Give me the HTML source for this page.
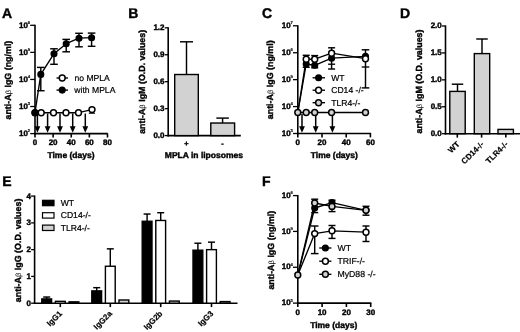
<!DOCTYPE html>
<html><head><meta charset="utf-8"><title>Figure</title>
<style>
html,body{margin:0;padding:0;background:#fff;}
svg{display:block;text-rendering:geometricPrecision;font-family:'Liberation Sans', Arial, sans-serif;}
</style></head>
<body>
<svg width="520" height="332" viewBox="0 0 520 332" style="font-family:'Liberation Sans', Arial, sans-serif">
<defs><filter id="soft" x="0" y="0" width="520" height="332" filterUnits="userSpaceOnUse"><feGaussianBlur stdDeviation="0.4"/></filter></defs>
<rect x="0" y="0" width="520" height="332" fill="#fff"/>
<g filter="url(#soft)">
<text x="2.00" y="18.00" font-size="14" font-weight="bold" text-anchor="start" stroke="#000" stroke-width="0.4">A</text>
<line x1="35.00" y1="24.70" x2="35.00" y2="134.40" stroke="#000" stroke-width="1.6" stroke-linecap="butt"/>
<line x1="34.20" y1="133.60" x2="107.80" y2="133.60" stroke="#000" stroke-width="1.6" stroke-linecap="butt"/>
<line x1="30.20" y1="25.30" x2="35.00" y2="25.30" stroke="#000" stroke-width="1.3" stroke-linecap="butt"/>
<text x="27.90" y="27.50" font-size="8.0" font-weight="bold" text-anchor="end" stroke="#000" stroke-width="0.4">10</text>
<text x="27.70" y="23.80" font-size="4.2" font-weight="bold" text-anchor="start" stroke="#000" stroke-width="0.15">6</text>
<line x1="30.20" y1="52.38" x2="35.00" y2="52.38" stroke="#000" stroke-width="1.3" stroke-linecap="butt"/>
<text x="27.90" y="54.58" font-size="8.0" font-weight="bold" text-anchor="end" stroke="#000" stroke-width="0.4">10</text>
<text x="27.70" y="50.88" font-size="4.2" font-weight="bold" text-anchor="start" stroke="#000" stroke-width="0.15">5</text>
<line x1="30.20" y1="79.45" x2="35.00" y2="79.45" stroke="#000" stroke-width="1.3" stroke-linecap="butt"/>
<text x="27.90" y="81.65" font-size="8.0" font-weight="bold" text-anchor="end" stroke="#000" stroke-width="0.4">10</text>
<text x="27.70" y="77.95" font-size="4.2" font-weight="bold" text-anchor="start" stroke="#000" stroke-width="0.15">4</text>
<line x1="30.20" y1="106.52" x2="35.00" y2="106.52" stroke="#000" stroke-width="1.3" stroke-linecap="butt"/>
<text x="27.90" y="108.72" font-size="8.0" font-weight="bold" text-anchor="end" stroke="#000" stroke-width="0.4">10</text>
<text x="27.70" y="105.02" font-size="4.2" font-weight="bold" text-anchor="start" stroke="#000" stroke-width="0.15">3</text>
<line x1="30.20" y1="133.60" x2="35.00" y2="133.60" stroke="#000" stroke-width="1.3" stroke-linecap="butt"/>
<text x="27.90" y="135.80" font-size="8.0" font-weight="bold" text-anchor="end" stroke="#000" stroke-width="0.4">10</text>
<text x="27.70" y="132.10" font-size="4.2" font-weight="bold" text-anchor="start" stroke="#000" stroke-width="0.15">2</text>
<line x1="35.00" y1="133.60" x2="35.00" y2="137.50" stroke="#000" stroke-width="1.6" stroke-linecap="butt"/>
<text x="35.00" y="145.30" font-size="8.0" font-weight="bold" text-anchor="middle" stroke="#000" stroke-width="0.4">0</text>
<line x1="53.12" y1="133.60" x2="53.12" y2="137.50" stroke="#000" stroke-width="1.6" stroke-linecap="butt"/>
<text x="53.12" y="145.30" font-size="8.0" font-weight="bold" text-anchor="middle" stroke="#000" stroke-width="0.4">20</text>
<line x1="71.24" y1="133.60" x2="71.24" y2="137.50" stroke="#000" stroke-width="1.6" stroke-linecap="butt"/>
<text x="71.24" y="145.30" font-size="8.0" font-weight="bold" text-anchor="middle" stroke="#000" stroke-width="0.4">40</text>
<line x1="89.36" y1="133.60" x2="89.36" y2="137.50" stroke="#000" stroke-width="1.6" stroke-linecap="butt"/>
<text x="89.36" y="145.30" font-size="8.0" font-weight="bold" text-anchor="middle" stroke="#000" stroke-width="0.4">60</text>
<line x1="107.48" y1="133.60" x2="107.48" y2="137.50" stroke="#000" stroke-width="1.6" stroke-linecap="butt"/>
<text x="107.48" y="145.30" font-size="8.0" font-weight="bold" text-anchor="middle" stroke="#000" stroke-width="0.4">80</text>
<text x="71.00" y="158.40" font-size="8.5" font-weight="bold" text-anchor="middle" stroke="#000" stroke-width="0.4">Time (days)</text>
<text x="10.60" y="80.10" font-size="8.9" font-weight="bold" stroke="#000" stroke-width="0.4" text-anchor="middle" transform="rotate(-90 10.60 80.10)">anti-A<tspan font-weight="normal" stroke-width="0" font-size="7.6">β</tspan> IgG (ng/ml)</text>
<line x1="37.40" y1="113.50" x2="37.40" y2="127.20" stroke="#000" stroke-width="1.5" stroke-linecap="butt"/>
<polygon points="34.50,126.20 40.30,126.20 37.40,132.80" fill="#000"/>
<line x1="47.60" y1="113.50" x2="47.60" y2="127.20" stroke="#000" stroke-width="1.5" stroke-linecap="butt"/>
<polygon points="44.70,126.20 50.50,126.20 47.60,132.80" fill="#000"/>
<line x1="60.00" y1="113.50" x2="60.00" y2="127.20" stroke="#000" stroke-width="1.5" stroke-linecap="butt"/>
<polygon points="57.10,126.20 62.90,126.20 60.00,132.80" fill="#000"/>
<line x1="72.70" y1="113.50" x2="72.70" y2="127.20" stroke="#000" stroke-width="1.5" stroke-linecap="butt"/>
<polygon points="69.80,126.20 75.60,126.20 72.70,132.80" fill="#000"/>
<line x1="85.30" y1="113.50" x2="85.30" y2="127.20" stroke="#000" stroke-width="1.5" stroke-linecap="butt"/>
<polygon points="82.40,126.20 88.20,126.20 85.30,132.80" fill="#000"/>
<polyline points="35.00,112.70 41.20,112.70 53.50,112.70 66.00,112.70 78.50,112.70 92.00,109.60" fill="none" stroke="#000" stroke-width="1.35" stroke-linejoin="round"/>
<line x1="88.80" y1="113.20" x2="95.00" y2="113.20" stroke="#000" stroke-width="1.1" stroke-linecap="butt"/>
<circle cx="35.00" cy="112.70" r="2.95" fill="#fff" stroke="#000" stroke-width="1.5"/>
<circle cx="41.20" cy="112.70" r="2.95" fill="#fff" stroke="#000" stroke-width="1.5"/>
<circle cx="53.50" cy="112.70" r="2.95" fill="#fff" stroke="#000" stroke-width="1.5"/>
<circle cx="66.00" cy="112.70" r="2.95" fill="#fff" stroke="#000" stroke-width="1.5"/>
<circle cx="78.50" cy="112.70" r="2.95" fill="#fff" stroke="#000" stroke-width="1.5"/>
<circle cx="92.00" cy="109.60" r="2.95" fill="#fff" stroke="#000" stroke-width="1.5"/>
<polyline points="35.00,112.70 40.80,74.40 54.00,53.70 66.20,43.70 79.00,38.20 91.60,37.70" fill="none" stroke="#000" stroke-width="1.35" stroke-linejoin="round"/>
<line x1="40.80" y1="67.40" x2="40.80" y2="90.70" stroke="#000" stroke-width="1.45" stroke-linecap="butt"/>
<line x1="37.00" y1="67.40" x2="44.60" y2="67.40" stroke="#000" stroke-width="1.45" stroke-linecap="butt"/>
<line x1="37.00" y1="90.70" x2="44.60" y2="90.70" stroke="#000" stroke-width="1.45" stroke-linecap="butt"/>
<line x1="54.00" y1="48.80" x2="54.00" y2="64.30" stroke="#000" stroke-width="1.45" stroke-linecap="butt"/>
<line x1="50.20" y1="48.80" x2="57.80" y2="48.80" stroke="#000" stroke-width="1.45" stroke-linecap="butt"/>
<line x1="50.20" y1="64.30" x2="57.80" y2="64.30" stroke="#000" stroke-width="1.45" stroke-linecap="butt"/>
<line x1="66.20" y1="39.40" x2="66.20" y2="51.80" stroke="#000" stroke-width="1.45" stroke-linecap="butt"/>
<line x1="62.40" y1="39.40" x2="70.00" y2="39.40" stroke="#000" stroke-width="1.45" stroke-linecap="butt"/>
<line x1="62.40" y1="51.80" x2="70.00" y2="51.80" stroke="#000" stroke-width="1.45" stroke-linecap="butt"/>
<line x1="79.00" y1="33.30" x2="79.00" y2="46.80" stroke="#000" stroke-width="1.45" stroke-linecap="butt"/>
<line x1="75.20" y1="33.30" x2="82.80" y2="33.30" stroke="#000" stroke-width="1.45" stroke-linecap="butt"/>
<line x1="75.20" y1="46.80" x2="82.80" y2="46.80" stroke="#000" stroke-width="1.45" stroke-linecap="butt"/>
<line x1="91.60" y1="33.10" x2="91.60" y2="46.30" stroke="#000" stroke-width="1.45" stroke-linecap="butt"/>
<line x1="87.80" y1="33.10" x2="95.40" y2="33.10" stroke="#000" stroke-width="1.45" stroke-linecap="butt"/>
<line x1="87.80" y1="46.30" x2="95.40" y2="46.30" stroke="#000" stroke-width="1.45" stroke-linecap="butt"/>
<circle cx="35.00" cy="112.70" r="2.8" fill="#000" stroke="#000" stroke-width="1.5"/>
<circle cx="40.80" cy="74.40" r="2.8" fill="#000" stroke="#000" stroke-width="1.5"/>
<circle cx="54.00" cy="53.70" r="2.8" fill="#000" stroke="#000" stroke-width="1.5"/>
<circle cx="66.20" cy="43.70" r="2.8" fill="#000" stroke="#000" stroke-width="1.5"/>
<circle cx="79.00" cy="38.20" r="2.8" fill="#000" stroke="#000" stroke-width="1.5"/>
<circle cx="91.60" cy="37.70" r="2.8" fill="#000" stroke="#000" stroke-width="1.5"/>
<line x1="56.50" y1="78.00" x2="68.00" y2="78.00" stroke="#000" stroke-width="1.35" stroke-linecap="butt"/>
<circle cx="62.20" cy="78.00" r="2.95" fill="#fff" stroke="#000" stroke-width="1.5"/>
<text x="74.50" y="80.90" font-size="8.6" font-weight="normal" text-anchor="start" stroke="#000" stroke-width="0.2">no MPLA</text>
<line x1="56.50" y1="90.10" x2="68.00" y2="90.10" stroke="#000" stroke-width="1.35" stroke-linecap="butt"/>
<circle cx="62.20" cy="90.10" r="2.8" fill="#000" stroke="#000" stroke-width="1.5"/>
<text x="74.30" y="93.00" font-size="8.6" font-weight="normal" text-anchor="start" stroke="#000" stroke-width="0.2">with MPLA</text>
<text x="128.20" y="17.80" font-size="14" font-weight="bold" text-anchor="start" stroke="#000" stroke-width="0.4">B</text>
<line x1="168.20" y1="27.20" x2="168.20" y2="136.40" stroke="#000" stroke-width="1.6" stroke-linecap="butt"/>
<line x1="167.40" y1="135.60" x2="240.80" y2="135.60" stroke="#000" stroke-width="1.6" stroke-linecap="butt"/>
<line x1="164.70" y1="27.80" x2="168.20" y2="27.80" stroke="#000" stroke-width="1.3" stroke-linecap="butt"/>
<text x="164.50" y="30.20" font-size="8.0" font-weight="bold" text-anchor="end" stroke="#000" stroke-width="0.4">1.2</text>
<line x1="164.70" y1="54.75" x2="168.20" y2="54.75" stroke="#000" stroke-width="1.3" stroke-linecap="butt"/>
<text x="164.50" y="57.15" font-size="8.0" font-weight="bold" text-anchor="end" stroke="#000" stroke-width="0.4">0.9</text>
<line x1="164.70" y1="81.70" x2="168.20" y2="81.70" stroke="#000" stroke-width="1.3" stroke-linecap="butt"/>
<text x="164.50" y="84.10" font-size="8.0" font-weight="bold" text-anchor="end" stroke="#000" stroke-width="0.4">0.6</text>
<line x1="164.70" y1="108.65" x2="168.20" y2="108.65" stroke="#000" stroke-width="1.3" stroke-linecap="butt"/>
<text x="164.50" y="111.05" font-size="8.0" font-weight="bold" text-anchor="end" stroke="#000" stroke-width="0.4">0.3</text>
<line x1="164.70" y1="135.60" x2="168.20" y2="135.60" stroke="#000" stroke-width="1.3" stroke-linecap="butt"/>
<text x="164.50" y="138.00" font-size="8.0" font-weight="bold" text-anchor="end" stroke="#000" stroke-width="0.4">0.0</text>
<rect x="174.70" y="74.51" width="23.60" height="61.09" fill="#d2d2d2" stroke="#000" stroke-width="1.4"/>
<line x1="186.50" y1="41.80" x2="186.50" y2="74.51" stroke="#000" stroke-width="1.45" stroke-linecap="butt"/>
<line x1="180.00" y1="41.80" x2="193.00" y2="41.80" stroke="#000" stroke-width="1.45" stroke-linecap="butt"/>
<rect x="210.80" y="123.02" width="23.80" height="12.58" fill="#d2d2d2" stroke="#000" stroke-width="1.4"/>
<line x1="222.60" y1="118.10" x2="222.60" y2="123.02" stroke="#000" stroke-width="1.45" stroke-linecap="butt"/>
<line x1="216.35" y1="118.10" x2="228.85" y2="118.10" stroke="#000" stroke-width="1.45" stroke-linecap="butt"/>
<text x="186.30" y="146.20" font-size="7.3" font-weight="bold" text-anchor="middle" stroke="#000" stroke-width="0.4">+</text>
<text x="222.50" y="145.80" font-size="7.3" font-weight="bold" text-anchor="middle" stroke="#000" stroke-width="0.4">-</text>
<text x="203.90" y="157.50" font-size="8.5" font-weight="bold" text-anchor="middle" stroke="#000" stroke-width="0.4">MPLA in liposomes</text>
<text x="144.70" y="81.80" font-size="8.9" font-weight="bold" stroke="#000" stroke-width="0.4" text-anchor="middle" transform="rotate(-90 144.70 81.80)">anti-A<tspan font-weight="normal" stroke-width="0" font-size="7.6">β</tspan> IgM (O.D. values)</text>
<text x="262.00" y="18.20" font-size="14" font-weight="bold" text-anchor="start" stroke="#000" stroke-width="0.4">C</text>
<line x1="297.80" y1="25.20" x2="297.80" y2="134.30" stroke="#000" stroke-width="1.6" stroke-linecap="butt"/>
<line x1="297.00" y1="133.50" x2="371.10" y2="133.50" stroke="#000" stroke-width="1.6" stroke-linecap="butt"/>
<line x1="293.00" y1="25.80" x2="297.80" y2="25.80" stroke="#000" stroke-width="1.3" stroke-linecap="butt"/>
<text x="290.70" y="28.00" font-size="8.0" font-weight="bold" text-anchor="end" stroke="#000" stroke-width="0.4">10</text>
<text x="290.50" y="24.30" font-size="4.2" font-weight="bold" text-anchor="start" stroke="#000" stroke-width="0.15">7</text>
<line x1="293.00" y1="52.73" x2="297.80" y2="52.73" stroke="#000" stroke-width="1.3" stroke-linecap="butt"/>
<text x="290.70" y="54.93" font-size="8.0" font-weight="bold" text-anchor="end" stroke="#000" stroke-width="0.4">10</text>
<text x="290.50" y="51.23" font-size="4.2" font-weight="bold" text-anchor="start" stroke="#000" stroke-width="0.15">6</text>
<line x1="293.00" y1="79.65" x2="297.80" y2="79.65" stroke="#000" stroke-width="1.3" stroke-linecap="butt"/>
<text x="290.70" y="81.85" font-size="8.0" font-weight="bold" text-anchor="end" stroke="#000" stroke-width="0.4">10</text>
<text x="290.50" y="78.15" font-size="4.2" font-weight="bold" text-anchor="start" stroke="#000" stroke-width="0.15">5</text>
<line x1="293.00" y1="106.58" x2="297.80" y2="106.58" stroke="#000" stroke-width="1.3" stroke-linecap="butt"/>
<text x="290.70" y="108.78" font-size="8.0" font-weight="bold" text-anchor="end" stroke="#000" stroke-width="0.4">10</text>
<text x="290.50" y="105.08" font-size="4.2" font-weight="bold" text-anchor="start" stroke="#000" stroke-width="0.15">4</text>
<line x1="293.00" y1="133.50" x2="297.80" y2="133.50" stroke="#000" stroke-width="1.3" stroke-linecap="butt"/>
<text x="290.70" y="135.70" font-size="8.0" font-weight="bold" text-anchor="end" stroke="#000" stroke-width="0.4">10</text>
<text x="290.50" y="132.00" font-size="4.2" font-weight="bold" text-anchor="start" stroke="#000" stroke-width="0.15">3</text>
<line x1="297.80" y1="133.50" x2="297.80" y2="137.40" stroke="#000" stroke-width="1.6" stroke-linecap="butt"/>
<text x="297.80" y="145.20" font-size="8.0" font-weight="bold" text-anchor="middle" stroke="#000" stroke-width="0.4">0</text>
<line x1="322.00" y1="133.50" x2="322.00" y2="137.40" stroke="#000" stroke-width="1.6" stroke-linecap="butt"/>
<text x="322.00" y="145.20" font-size="8.0" font-weight="bold" text-anchor="middle" stroke="#000" stroke-width="0.4">20</text>
<line x1="346.20" y1="133.50" x2="346.20" y2="137.40" stroke="#000" stroke-width="1.6" stroke-linecap="butt"/>
<text x="346.20" y="145.20" font-size="8.0" font-weight="bold" text-anchor="middle" stroke="#000" stroke-width="0.4">40</text>
<line x1="370.40" y1="133.50" x2="370.40" y2="137.40" stroke="#000" stroke-width="1.6" stroke-linecap="butt"/>
<text x="370.40" y="145.20" font-size="8.0" font-weight="bold" text-anchor="middle" stroke="#000" stroke-width="0.4">60</text>
<text x="334.30" y="158.40" font-size="8.5" font-weight="bold" text-anchor="middle" stroke="#000" stroke-width="0.4">Time (days)</text>
<text x="273.00" y="79.80" font-size="8.9" font-weight="bold" stroke="#000" stroke-width="0.4" text-anchor="middle" transform="rotate(-90 273.00 79.80)">anti-A<tspan font-weight="normal" stroke-width="0" font-size="7.6">β</tspan> IgG (ng/ml)</text>
<line x1="302.00" y1="114.00" x2="302.00" y2="127.20" stroke="#000" stroke-width="1.5" stroke-linecap="butt"/>
<polygon points="299.10,126.20 304.90,126.20 302.00,132.80" fill="#000"/>
<line x1="315.70" y1="114.00" x2="315.70" y2="127.20" stroke="#000" stroke-width="1.5" stroke-linecap="butt"/>
<polygon points="312.80,126.20 318.60,126.20 315.70,132.80" fill="#000"/>
<line x1="332.40" y1="114.00" x2="332.40" y2="127.20" stroke="#000" stroke-width="1.5" stroke-linecap="butt"/>
<polygon points="329.50,126.20 335.30,126.20 332.40,132.80" fill="#000"/>
<polyline points="297.80,112.50 306.20,112.50 314.70,112.50 331.60,112.50 365.50,112.50" fill="none" stroke="#000" stroke-width="1.35" stroke-linejoin="round"/>
<polyline points="297.80,112.50 306.20,64.00 314.70,65.30 331.60,58.20 365.50,56.30" fill="none" stroke="#000" stroke-width="1.35" stroke-linejoin="round"/>
<polyline points="297.80,112.50 306.20,59.20 314.70,59.20 331.60,53.20 365.50,58.70" fill="none" stroke="#000" stroke-width="1.35" stroke-linejoin="round"/>
<line x1="306.20" y1="55.30" x2="306.20" y2="67.30" stroke="#000" stroke-width="1.45" stroke-linecap="butt"/>
<line x1="302.70" y1="55.30" x2="309.70" y2="55.30" stroke="#000" stroke-width="1.45" stroke-linecap="butt"/>
<line x1="302.70" y1="67.30" x2="309.70" y2="67.30" stroke="#000" stroke-width="1.45" stroke-linecap="butt"/>
<line x1="314.70" y1="55.60" x2="314.70" y2="67.80" stroke="#000" stroke-width="1.45" stroke-linecap="butt"/>
<line x1="311.20" y1="55.60" x2="318.20" y2="55.60" stroke="#000" stroke-width="1.45" stroke-linecap="butt"/>
<line x1="311.20" y1="67.80" x2="318.20" y2="67.80" stroke="#000" stroke-width="1.45" stroke-linecap="butt"/>
<line x1="331.60" y1="47.80" x2="331.60" y2="69.00" stroke="#000" stroke-width="1.45" stroke-linecap="butt"/>
<line x1="328.10" y1="47.80" x2="335.10" y2="47.80" stroke="#000" stroke-width="1.45" stroke-linecap="butt"/>
<line x1="328.10" y1="69.00" x2="335.10" y2="69.00" stroke="#000" stroke-width="1.45" stroke-linecap="butt"/>
<line x1="328.10" y1="64.20" x2="335.10" y2="64.20" stroke="#000" stroke-width="1.35" stroke-linecap="butt"/>
<line x1="365.50" y1="49.80" x2="365.50" y2="87.90" stroke="#000" stroke-width="1.45" stroke-linecap="butt"/>
<line x1="361.70" y1="49.80" x2="369.30" y2="49.80" stroke="#000" stroke-width="1.45" stroke-linecap="butt"/>
<line x1="361.70" y1="87.90" x2="369.30" y2="87.90" stroke="#000" stroke-width="1.45" stroke-linecap="butt"/>
<line x1="361.70" y1="67.00" x2="369.30" y2="67.00" stroke="#000" stroke-width="1.35" stroke-linecap="butt"/>
<circle cx="306.20" cy="64.00" r="2.8" fill="#000" stroke="#000" stroke-width="1.5"/>
<circle cx="314.70" cy="65.30" r="2.8" fill="#000" stroke="#000" stroke-width="1.5"/>
<circle cx="331.60" cy="58.20" r="2.8" fill="#000" stroke="#000" stroke-width="1.5"/>
<circle cx="365.50" cy="56.30" r="2.8" fill="#000" stroke="#000" stroke-width="1.5"/>
<circle cx="306.20" cy="59.20" r="2.95" fill="#fff" stroke="#000" stroke-width="1.5"/>
<circle cx="314.70" cy="59.20" r="2.95" fill="#fff" stroke="#000" stroke-width="1.5"/>
<circle cx="331.60" cy="53.20" r="2.95" fill="#fff" stroke="#000" stroke-width="1.5"/>
<circle cx="365.50" cy="58.70" r="2.95" fill="#fff" stroke="#000" stroke-width="1.5"/>
<circle cx="297.80" cy="112.50" r="2.95" fill="#d2d2d2" stroke="#000" stroke-width="1.5"/>
<circle cx="306.20" cy="112.50" r="2.95" fill="#d2d2d2" stroke="#000" stroke-width="1.5"/>
<circle cx="314.70" cy="112.50" r="2.95" fill="#d2d2d2" stroke="#000" stroke-width="1.5"/>
<circle cx="331.60" cy="112.50" r="2.95" fill="#d2d2d2" stroke="#000" stroke-width="1.5"/>
<circle cx="365.50" cy="112.50" r="2.95" fill="#d2d2d2" stroke="#000" stroke-width="1.5"/>
<line x1="312.60" y1="77.80" x2="325.00" y2="77.80" stroke="#000" stroke-width="1.35" stroke-linecap="butt"/>
<circle cx="318.60" cy="77.80" r="2.8" fill="#000" stroke="#000" stroke-width="1.5"/>
<text x="331.20" y="80.80" font-size="8.6" font-weight="normal" text-anchor="start" stroke="#000" stroke-width="0.2">WT</text>
<line x1="312.60" y1="90.20" x2="325.00" y2="90.20" stroke="#000" stroke-width="1.35" stroke-linecap="butt"/>
<circle cx="318.60" cy="90.20" r="2.95" fill="#fff" stroke="#000" stroke-width="1.5"/>
<text x="331.20" y="93.20" font-size="8.6" font-weight="normal" text-anchor="start" stroke="#000" stroke-width="0.2">CD14 -/-</text>
<line x1="312.60" y1="102.70" x2="325.00" y2="102.70" stroke="#000" stroke-width="1.35" stroke-linecap="butt"/>
<circle cx="318.60" cy="102.70" r="2.95" fill="#d2d2d2" stroke="#000" stroke-width="1.5"/>
<text x="331.20" y="105.70" font-size="8.6" font-weight="normal" text-anchor="start" stroke="#000" stroke-width="0.2">TLR4-/-</text>
<text x="400.00" y="18.00" font-size="14" font-weight="bold" text-anchor="start" stroke="#000" stroke-width="0.4">D</text>
<line x1="445.50" y1="25.40" x2="445.50" y2="134.50" stroke="#000" stroke-width="1.6" stroke-linecap="butt"/>
<line x1="444.70" y1="133.70" x2="520.00" y2="133.70" stroke="#000" stroke-width="1.6" stroke-linecap="butt"/>
<line x1="442.00" y1="26.00" x2="445.50" y2="26.00" stroke="#000" stroke-width="1.3" stroke-linecap="butt"/>
<text x="441.80" y="28.40" font-size="8.0" font-weight="bold" text-anchor="end" stroke="#000" stroke-width="0.4">2.0</text>
<line x1="442.00" y1="52.92" x2="445.50" y2="52.92" stroke="#000" stroke-width="1.3" stroke-linecap="butt"/>
<text x="441.80" y="55.32" font-size="8.0" font-weight="bold" text-anchor="end" stroke="#000" stroke-width="0.4">1.5</text>
<line x1="442.00" y1="79.85" x2="445.50" y2="79.85" stroke="#000" stroke-width="1.3" stroke-linecap="butt"/>
<text x="441.80" y="82.25" font-size="8.0" font-weight="bold" text-anchor="end" stroke="#000" stroke-width="0.4">1.0</text>
<line x1="442.00" y1="106.77" x2="445.50" y2="106.77" stroke="#000" stroke-width="1.3" stroke-linecap="butt"/>
<text x="441.80" y="109.17" font-size="8.0" font-weight="bold" text-anchor="end" stroke="#000" stroke-width="0.4">0.5</text>
<line x1="442.00" y1="133.70" x2="445.50" y2="133.70" stroke="#000" stroke-width="1.3" stroke-linecap="butt"/>
<text x="441.80" y="136.10" font-size="8.0" font-weight="bold" text-anchor="end" stroke="#000" stroke-width="0.4">0.0</text>
<line x1="457.50" y1="84.20" x2="457.50" y2="91.40" stroke="#000" stroke-width="1.45" stroke-linecap="butt"/>
<line x1="451.75" y1="84.20" x2="463.25" y2="84.20" stroke="#000" stroke-width="1.45" stroke-linecap="butt"/>
<rect x="449.80" y="91.40" width="15.40" height="42.30" fill="#d2d2d2" stroke="#000" stroke-width="1.4"/>
<line x1="482.00" y1="39.00" x2="482.00" y2="53.60" stroke="#000" stroke-width="1.45" stroke-linecap="butt"/>
<line x1="476.25" y1="39.00" x2="487.75" y2="39.00" stroke="#000" stroke-width="1.45" stroke-linecap="butt"/>
<rect x="474.30" y="53.60" width="15.40" height="80.10" fill="#d2d2d2" stroke="#000" stroke-width="1.4"/>
<rect x="498.00" y="129.40" width="15.40" height="4.30" fill="#d2d2d2" stroke="#000" stroke-width="1.4"/>
<line x1="457.30" y1="133.70" x2="457.30" y2="137.60" stroke="#000" stroke-width="1.6" stroke-linecap="butt"/>
<text x="460.10" y="144.70" font-size="8.0" font-weight="bold" text-anchor="end" transform="rotate(-45 460.10 144.70)" stroke="#000" stroke-width="0.2">WT</text>
<line x1="481.60" y1="133.70" x2="481.60" y2="137.60" stroke="#000" stroke-width="1.6" stroke-linecap="butt"/>
<text x="484.40" y="144.70" font-size="8.0" font-weight="bold" text-anchor="end" transform="rotate(-45 484.40 144.70)" stroke="#000" stroke-width="0.2">CD14-/-</text>
<line x1="505.80" y1="133.70" x2="505.80" y2="137.60" stroke="#000" stroke-width="1.6" stroke-linecap="butt"/>
<text x="508.60" y="144.70" font-size="8.0" font-weight="bold" text-anchor="end" transform="rotate(-45 508.60 144.70)" stroke="#000" stroke-width="0.2">TLR4-/-</text>
<text x="422.00" y="81.50" font-size="8.9" font-weight="bold" stroke="#000" stroke-width="0.4" text-anchor="middle" transform="rotate(-90 422.00 81.50)">anti-A<tspan font-weight="normal" stroke-width="0" font-size="7.6">β</tspan> IgM (O.D. values)</text>
<text x="2.30" y="186.00" font-size="14" font-weight="bold" text-anchor="start" stroke="#000" stroke-width="0.4">E</text>
<line x1="34.60" y1="195.50" x2="34.60" y2="304.00" stroke="#000" stroke-width="1.6" stroke-linecap="butt"/>
<line x1="33.80" y1="303.20" x2="237.50" y2="303.20" stroke="#000" stroke-width="1.6" stroke-linecap="butt"/>
<line x1="31.10" y1="196.10" x2="34.60" y2="196.10" stroke="#000" stroke-width="1.3" stroke-linecap="butt"/>
<text x="30.90" y="198.50" font-size="8.0" font-weight="bold" text-anchor="end" stroke="#000" stroke-width="0.4">4</text>
<line x1="31.10" y1="222.88" x2="34.60" y2="222.88" stroke="#000" stroke-width="1.3" stroke-linecap="butt"/>
<text x="30.90" y="225.28" font-size="8.0" font-weight="bold" text-anchor="end" stroke="#000" stroke-width="0.4">3</text>
<line x1="31.10" y1="249.65" x2="34.60" y2="249.65" stroke="#000" stroke-width="1.3" stroke-linecap="butt"/>
<text x="30.90" y="252.05" font-size="8.0" font-weight="bold" text-anchor="end" stroke="#000" stroke-width="0.4">2</text>
<line x1="31.10" y1="276.42" x2="34.60" y2="276.42" stroke="#000" stroke-width="1.3" stroke-linecap="butt"/>
<text x="30.90" y="278.82" font-size="8.0" font-weight="bold" text-anchor="end" stroke="#000" stroke-width="0.4">1</text>
<line x1="31.10" y1="303.20" x2="34.60" y2="303.20" stroke="#000" stroke-width="1.3" stroke-linecap="butt"/>
<text x="30.90" y="305.60" font-size="8.0" font-weight="bold" text-anchor="end" stroke="#000" stroke-width="0.4">0</text>
<line x1="46.70" y1="297.04" x2="46.70" y2="298.92" stroke="#000" stroke-width="1.45" stroke-linecap="butt"/>
<line x1="43.20" y1="297.04" x2="50.20" y2="297.04" stroke="#000" stroke-width="1.45" stroke-linecap="butt"/>
<rect x="41.80" y="298.92" width="9.80" height="4.28" fill="#000" stroke="#000" stroke-width="1.4"/>
<rect x="55.40" y="301.33" width="9.80" height="1.87" fill="#fff" stroke="#000" stroke-width="1.4"/>
<rect x="69.00" y="301.86" width="9.80" height="1.34" fill="#d2d2d2" stroke="#000" stroke-width="1.4"/>
<line x1="60.30" y1="303.20" x2="60.30" y2="307.10" stroke="#000" stroke-width="1.6" stroke-linecap="butt"/>
<text x="62.60" y="314.20" font-size="8.0" font-weight="bold" text-anchor="end" transform="rotate(-45 62.60 314.20)" stroke="#000" stroke-width="0.2">IgG1</text>
<line x1="96.70" y1="287.67" x2="96.70" y2="290.88" stroke="#000" stroke-width="1.45" stroke-linecap="butt"/>
<line x1="93.20" y1="287.67" x2="100.20" y2="287.67" stroke="#000" stroke-width="1.45" stroke-linecap="butt"/>
<rect x="91.80" y="290.88" width="9.80" height="12.32" fill="#000" stroke="#000" stroke-width="1.4"/>
<line x1="110.30" y1="248.85" x2="110.30" y2="266.25" stroke="#000" stroke-width="1.45" stroke-linecap="butt"/>
<line x1="106.80" y1="248.85" x2="113.80" y2="248.85" stroke="#000" stroke-width="1.45" stroke-linecap="butt"/>
<rect x="105.40" y="266.25" width="9.80" height="36.95" fill="#fff" stroke="#000" stroke-width="1.4"/>
<rect x="119.00" y="299.99" width="9.80" height="3.21" fill="#d2d2d2" stroke="#000" stroke-width="1.4"/>
<line x1="110.30" y1="303.20" x2="110.30" y2="307.10" stroke="#000" stroke-width="1.6" stroke-linecap="butt"/>
<text x="112.60" y="314.20" font-size="8.0" font-weight="bold" text-anchor="end" transform="rotate(-45 112.60 314.20)" stroke="#000" stroke-width="0.2">IgG2a</text>
<line x1="147.10" y1="214.04" x2="147.10" y2="221.27" stroke="#000" stroke-width="1.45" stroke-linecap="butt"/>
<line x1="143.60" y1="214.04" x2="150.60" y2="214.04" stroke="#000" stroke-width="1.45" stroke-linecap="butt"/>
<rect x="142.20" y="221.27" width="9.80" height="81.93" fill="#000" stroke="#000" stroke-width="1.4"/>
<line x1="160.70" y1="212.70" x2="160.70" y2="220.47" stroke="#000" stroke-width="1.45" stroke-linecap="butt"/>
<line x1="157.20" y1="212.70" x2="164.20" y2="212.70" stroke="#000" stroke-width="1.45" stroke-linecap="butt"/>
<rect x="155.80" y="220.47" width="9.80" height="82.73" fill="#fff" stroke="#000" stroke-width="1.4"/>
<rect x="169.40" y="301.06" width="9.80" height="2.14" fill="#d2d2d2" stroke="#000" stroke-width="1.4"/>
<line x1="160.70" y1="303.20" x2="160.70" y2="307.10" stroke="#000" stroke-width="1.6" stroke-linecap="butt"/>
<text x="163.00" y="314.20" font-size="8.0" font-weight="bold" text-anchor="end" transform="rotate(-45 163.00 314.20)" stroke="#000" stroke-width="0.2">IgG2b</text>
<line x1="197.90" y1="243.22" x2="197.90" y2="250.19" stroke="#000" stroke-width="1.45" stroke-linecap="butt"/>
<line x1="194.40" y1="243.22" x2="201.40" y2="243.22" stroke="#000" stroke-width="1.45" stroke-linecap="butt"/>
<rect x="193.00" y="250.19" width="9.80" height="53.01" fill="#000" stroke="#000" stroke-width="1.4"/>
<line x1="211.50" y1="242.15" x2="211.50" y2="249.65" stroke="#000" stroke-width="1.45" stroke-linecap="butt"/>
<line x1="208.00" y1="242.15" x2="215.00" y2="242.15" stroke="#000" stroke-width="1.45" stroke-linecap="butt"/>
<rect x="206.60" y="249.65" width="9.80" height="53.55" fill="#fff" stroke="#000" stroke-width="1.4"/>
<rect x="220.20" y="301.59" width="9.80" height="1.61" fill="#d2d2d2" stroke="#000" stroke-width="1.4"/>
<line x1="211.50" y1="303.20" x2="211.50" y2="307.10" stroke="#000" stroke-width="1.6" stroke-linecap="butt"/>
<text x="213.80" y="314.20" font-size="8.0" font-weight="bold" text-anchor="end" transform="rotate(-45 213.80 314.20)" stroke="#000" stroke-width="0.2">IgG3</text>
<rect x="42.50" y="200.30" width="11.50" height="5.40" fill="#000" stroke="#000" stroke-width="1.2"/>
<text x="60.70" y="206.00" font-size="8.6" font-weight="normal" text-anchor="start" stroke="#000" stroke-width="0.2">WT</text>
<rect x="42.50" y="212.70" width="11.50" height="5.40" fill="#fff" stroke="#000" stroke-width="1.2"/>
<text x="60.70" y="218.40" font-size="8.6" font-weight="normal" text-anchor="start" stroke="#000" stroke-width="0.2">CD14-/-</text>
<rect x="42.50" y="225.10" width="11.50" height="5.40" fill="#d2d2d2" stroke="#000" stroke-width="1.2"/>
<text x="60.70" y="230.80" font-size="8.6" font-weight="normal" text-anchor="start" stroke="#000" stroke-width="0.2">TLR4-/-</text>
<text x="21.10" y="250.40" font-size="8.9" font-weight="bold" stroke="#000" stroke-width="0.4" text-anchor="middle" transform="rotate(-90 21.10 250.40)">anti-A<tspan font-weight="normal" stroke-width="0" font-size="7.6">β</tspan> IgG (O.D. values)</text>
<text x="261.90" y="186.00" font-size="14" font-weight="bold" text-anchor="start" stroke="#000" stroke-width="0.4">F</text>
<line x1="297.80" y1="195.00" x2="297.80" y2="303.90" stroke="#000" stroke-width="1.6" stroke-linecap="butt"/>
<line x1="297.00" y1="303.10" x2="371.40" y2="303.10" stroke="#000" stroke-width="1.6" stroke-linecap="butt"/>
<line x1="293.00" y1="195.60" x2="297.80" y2="195.60" stroke="#000" stroke-width="1.3" stroke-linecap="butt"/>
<text x="290.70" y="197.80" font-size="8.0" font-weight="bold" text-anchor="end" stroke="#000" stroke-width="0.4">10</text>
<text x="290.50" y="194.10" font-size="4.2" font-weight="bold" text-anchor="start" stroke="#000" stroke-width="0.15">6</text>
<line x1="293.00" y1="231.43" x2="297.80" y2="231.43" stroke="#000" stroke-width="1.3" stroke-linecap="butt"/>
<text x="290.70" y="233.63" font-size="8.0" font-weight="bold" text-anchor="end" stroke="#000" stroke-width="0.4">10</text>
<text x="290.50" y="229.93" font-size="4.2" font-weight="bold" text-anchor="start" stroke="#000" stroke-width="0.15">5</text>
<line x1="293.00" y1="267.27" x2="297.80" y2="267.27" stroke="#000" stroke-width="1.3" stroke-linecap="butt"/>
<text x="290.70" y="269.47" font-size="8.0" font-weight="bold" text-anchor="end" stroke="#000" stroke-width="0.4">10</text>
<text x="290.50" y="265.77" font-size="4.2" font-weight="bold" text-anchor="start" stroke="#000" stroke-width="0.15">4</text>
<line x1="293.00" y1="303.10" x2="297.80" y2="303.10" stroke="#000" stroke-width="1.3" stroke-linecap="butt"/>
<text x="290.70" y="305.30" font-size="8.0" font-weight="bold" text-anchor="end" stroke="#000" stroke-width="0.4">10</text>
<text x="290.50" y="301.60" font-size="4.2" font-weight="bold" text-anchor="start" stroke="#000" stroke-width="0.15">3</text>
<line x1="297.80" y1="303.10" x2="297.80" y2="307.00" stroke="#000" stroke-width="1.6" stroke-linecap="butt"/>
<text x="297.80" y="314.80" font-size="8.0" font-weight="bold" text-anchor="middle" stroke="#000" stroke-width="0.4">0</text>
<line x1="322.10" y1="303.10" x2="322.10" y2="307.00" stroke="#000" stroke-width="1.6" stroke-linecap="butt"/>
<text x="322.10" y="314.80" font-size="8.0" font-weight="bold" text-anchor="middle" stroke="#000" stroke-width="0.4">10</text>
<line x1="346.40" y1="303.10" x2="346.40" y2="307.00" stroke="#000" stroke-width="1.6" stroke-linecap="butt"/>
<text x="346.40" y="314.80" font-size="8.0" font-weight="bold" text-anchor="middle" stroke="#000" stroke-width="0.4">20</text>
<line x1="370.70" y1="303.10" x2="370.70" y2="307.00" stroke="#000" stroke-width="1.6" stroke-linecap="butt"/>
<text x="370.70" y="314.80" font-size="8.0" font-weight="bold" text-anchor="middle" stroke="#000" stroke-width="0.4">30</text>
<text x="333.70" y="327.60" font-size="8.5" font-weight="bold" text-anchor="middle" stroke="#000" stroke-width="0.4">Time (days)</text>
<text x="274.00" y="250.20" font-size="8.9" font-weight="bold" stroke="#000" stroke-width="0.4" text-anchor="middle" transform="rotate(-90 274.00 250.20)">anti-A<tspan font-weight="normal" stroke-width="0" font-size="7.6">β</tspan> IgG (ng/ml)</text>
<polyline points="297.80,275.00 314.70,233.60 332.00,230.80 366.00,232.20" fill="none" stroke="#000" stroke-width="1.35" stroke-linejoin="round"/>
<polyline points="297.80,275.00 314.70,208.00 332.00,202.60 366.00,210.30" fill="none" stroke="#000" stroke-width="1.35" stroke-linejoin="round"/>
<polyline points="297.80,275.00 314.70,203.00 332.00,206.40 366.00,210.30" fill="none" stroke="#000" stroke-width="1.35" stroke-linejoin="round"/>
<line x1="314.70" y1="199.20" x2="314.70" y2="212.60" stroke="#000" stroke-width="1.45" stroke-linecap="butt"/>
<line x1="311.20" y1="199.20" x2="318.20" y2="199.20" stroke="#000" stroke-width="1.45" stroke-linecap="butt"/>
<line x1="311.20" y1="212.60" x2="318.20" y2="212.60" stroke="#000" stroke-width="1.45" stroke-linecap="butt"/>
<line x1="332.00" y1="200.20" x2="332.00" y2="211.60" stroke="#000" stroke-width="1.45" stroke-linecap="butt"/>
<line x1="328.50" y1="200.20" x2="335.50" y2="200.20" stroke="#000" stroke-width="1.45" stroke-linecap="butt"/>
<line x1="328.50" y1="211.60" x2="335.50" y2="211.60" stroke="#000" stroke-width="1.45" stroke-linecap="butt"/>
<line x1="366.00" y1="206.30" x2="366.00" y2="215.20" stroke="#000" stroke-width="1.45" stroke-linecap="butt"/>
<line x1="362.50" y1="206.30" x2="369.50" y2="206.30" stroke="#000" stroke-width="1.45" stroke-linecap="butt"/>
<line x1="362.50" y1="215.20" x2="369.50" y2="215.20" stroke="#000" stroke-width="1.45" stroke-linecap="butt"/>
<line x1="314.70" y1="226.00" x2="314.70" y2="253.60" stroke="#000" stroke-width="1.45" stroke-linecap="butt"/>
<line x1="310.90" y1="226.00" x2="318.50" y2="226.00" stroke="#000" stroke-width="1.45" stroke-linecap="butt"/>
<line x1="310.90" y1="253.60" x2="318.50" y2="253.60" stroke="#000" stroke-width="1.45" stroke-linecap="butt"/>
<line x1="332.00" y1="225.50" x2="332.00" y2="238.40" stroke="#000" stroke-width="1.45" stroke-linecap="butt"/>
<line x1="328.50" y1="225.50" x2="335.50" y2="225.50" stroke="#000" stroke-width="1.45" stroke-linecap="butt"/>
<line x1="328.50" y1="238.40" x2="335.50" y2="238.40" stroke="#000" stroke-width="1.45" stroke-linecap="butt"/>
<line x1="366.00" y1="226.00" x2="366.00" y2="241.50" stroke="#000" stroke-width="1.45" stroke-linecap="butt"/>
<line x1="362.50" y1="226.00" x2="369.50" y2="226.00" stroke="#000" stroke-width="1.45" stroke-linecap="butt"/>
<line x1="362.50" y1="241.50" x2="369.50" y2="241.50" stroke="#000" stroke-width="1.45" stroke-linecap="butt"/>
<circle cx="314.70" cy="208.00" r="2.8" fill="#000" stroke="#000" stroke-width="1.5"/>
<circle cx="332.00" cy="202.60" r="2.8" fill="#000" stroke="#000" stroke-width="1.5"/>
<circle cx="366.00" cy="210.30" r="2.8" fill="#000" stroke="#000" stroke-width="1.5"/>
<circle cx="314.70" cy="233.60" r="2.95" fill="#fff" stroke="#000" stroke-width="1.5"/>
<circle cx="332.00" cy="230.80" r="2.95" fill="#fff" stroke="#000" stroke-width="1.5"/>
<circle cx="366.00" cy="232.20" r="2.95" fill="#fff" stroke="#000" stroke-width="1.5"/>
<circle cx="297.80" cy="275.00" r="2.95" fill="#d2d2d2" stroke="#000" stroke-width="1.5"/>
<circle cx="314.70" cy="203.00" r="2.95" fill="#d2d2d2" stroke="#000" stroke-width="1.5"/>
<circle cx="332.00" cy="206.40" r="2.95" fill="#d2d2d2" stroke="#000" stroke-width="1.5"/>
<circle cx="366.00" cy="210.30" r="2.95" fill="#d2d2d2" stroke="#000" stroke-width="1.5"/>
<line x1="319.20" y1="248.00" x2="331.40" y2="248.00" stroke="#000" stroke-width="1.35" stroke-linecap="butt"/>
<circle cx="325.40" cy="248.00" r="2.8" fill="#000" stroke="#000" stroke-width="1.5"/>
<text x="337.50" y="251.00" font-size="8.7" font-weight="normal" text-anchor="start" stroke="#000" stroke-width="0.2">WT</text>
<line x1="319.20" y1="261.20" x2="331.40" y2="261.20" stroke="#000" stroke-width="1.35" stroke-linecap="butt"/>
<circle cx="325.40" cy="261.20" r="2.95" fill="#fff" stroke="#000" stroke-width="1.5"/>
<text x="337.50" y="264.20" font-size="8.7" font-weight="normal" text-anchor="start" stroke="#000" stroke-width="0.2">TRIF-/-</text>
<line x1="319.20" y1="274.30" x2="331.40" y2="274.30" stroke="#000" stroke-width="1.35" stroke-linecap="butt"/>
<circle cx="325.40" cy="274.30" r="2.95" fill="#d2d2d2" stroke="#000" stroke-width="1.5"/>
<text x="337.50" y="277.30" font-size="8.7" font-weight="normal" text-anchor="start" stroke="#000" stroke-width="0.2">MyD88 -/-</text>
</g>
</svg>
</body></html>
